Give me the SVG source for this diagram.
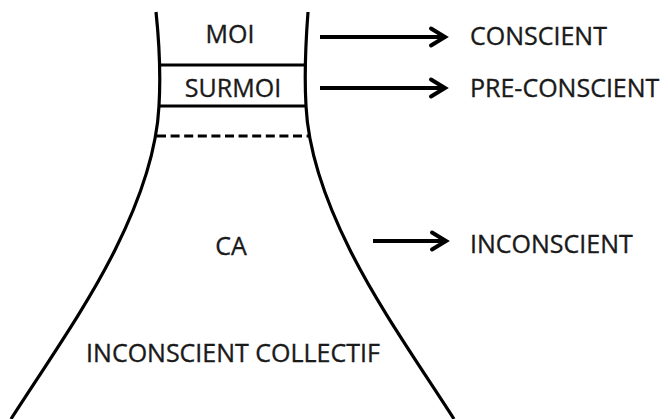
<svg xmlns="http://www.w3.org/2000/svg" width="668" height="419" viewBox="0 0 668 419">
<defs>
<marker id="chev" markerUnits="userSpaceOnUse" markerWidth="22" markerHeight="24" viewBox="-17 -12 22 24" refX="0" refY="0" orient="auto">
<path d="M-14,-8.5 L0,0 L-14,8.5" fill="none" stroke="#000" stroke-width="4" stroke-linejoin="miter" stroke-linecap="round"/>
</marker>
</defs>
<style>
.ln{fill:none;stroke:#000;stroke-width:3.2;}
.ar{fill:none;stroke:#000;stroke-width:4;marker-end:url(#chev);}
.t{font-family:"Open Sans","Liberation Sans",sans-serif;font-size:25px;fill:#1a1a1a;stroke:#1a1a1a;stroke-width:0.35;}
.m{text-anchor:middle;}
</style>
<rect width="668" height="419" fill="#fff"/>
<g id="vase">
<path class="ln" d="M156,12 C159.5,45 160.5,80 159,106 C156.6,154 139,202 115,250 C87,306 48.4,361 11,419"/>
<path class="ln" d="M308,12 C305.5,45 304.5,80 306,106 C308.4,154 326,202 350,250 C378,306 416.6,361 454,419"/>
</g>
<g id="moi">
<text class="t m" x="230" y="43">MOI</text>
</g>
<g id="surmoi">
<line class="ln" x1="160" y1="65" x2="304" y2="65"/>
<text class="t m" x="233" y="97">SURMOI</text>
<line class="ln" x1="159" y1="106" x2="306" y2="106"/>
</g>
<g id="limite">
<line class="ln" x1="157" y1="136" x2="309" y2="136" stroke-dasharray="9,4.6"/>
</g>
<g id="ca">
<text class="t m" x="231" y="255">CA</text>
</g>
<g id="inconscient-collectif">
<text class="t m" x="233" y="362">INCONSCIENT COLLECTIF</text>
</g>
<g id="conscient">
<text class="t" x="470" y="45">CONSCIENT</text>
</g>
<g id="pre-conscient">
<text class="t" x="470" y="97">PRE-CONSCIENT</text>
</g>
<g id="inconscient">
<text class="t" x="470" y="253">INCONSCIENT</text>
</g>
<g id="connectors">
<line class="ar" x1="320" y1="37" x2="445" y2="37"/>
<line class="ar" x1="320" y1="88" x2="445" y2="88"/>
<line class="ar" x1="373" y1="241" x2="446" y2="241"/>
</g>
</svg>
